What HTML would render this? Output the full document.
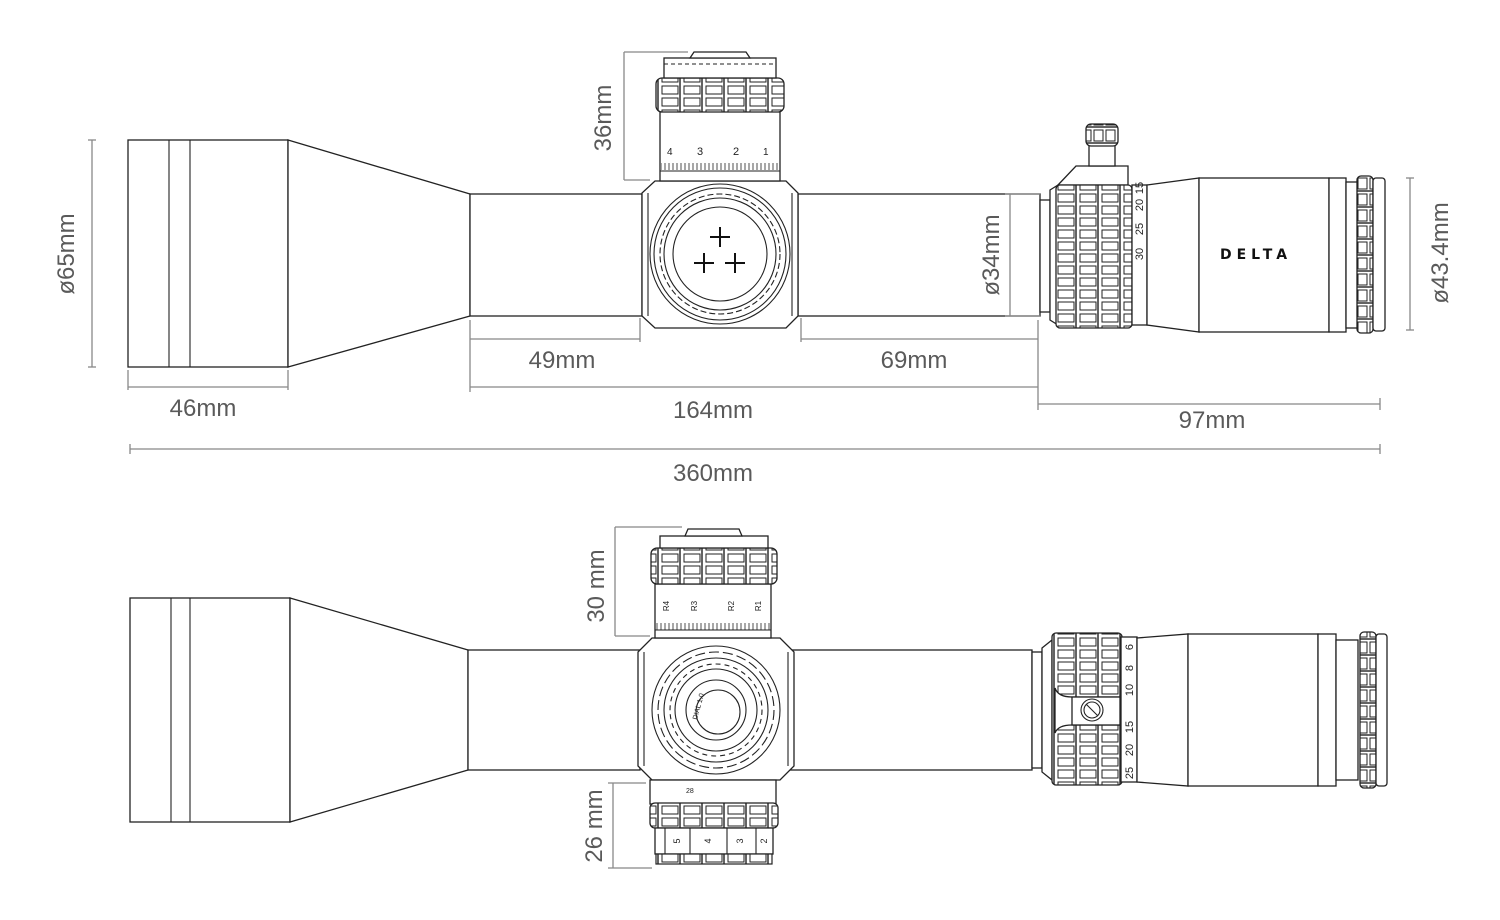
<!DOCTYPE html>
<html><head><meta charset="utf-8"><style>
html,body{margin:0;padding:0;background:#fff;width:1500px;height:920px;overflow:hidden}
svg{display:block}
.d{stroke:#888;stroke-width:1.3;fill:none}
.t{font-family:"Liberation Sans","DejaVu Sans",sans-serif;font-size:24px;fill:#5a5a5a}
.s{stroke:#222;stroke-width:1.3;fill:#fff}
.l{stroke:#222;stroke-width:1.1;fill:none}
.sm{font-family:"Liberation Sans",sans-serif;font-size:10px;fill:#222}
</style></head><body>
<svg width="1500" height="920" viewBox="0 0 1500 920" xmlns="http://www.w3.org/2000/svg">
<defs>
<pattern id="kn" width="22" height="12" patternUnits="userSpaceOnUse">
<rect width="22" height="12" fill="#fff"/>
<rect x="2" y="2" width="16" height="8" fill="none" stroke="#222" stroke-width="1"/>
<line x1="20" y1="0" x2="20" y2="12" stroke="#222" stroke-width="1.4"/>
</pattern>
<pattern id="knv" width="12" height="16" patternUnits="userSpaceOnUse">
<rect width="12" height="16" fill="#fff"/>
<rect x="2" y="2" width="9" height="11" fill="none" stroke="#222" stroke-width="1"/>
<line x1="0" y1="15" x2="12" y2="15" stroke="#222" stroke-width="1.4"/>
</pattern>
<pattern id="tk" width="4" height="10" patternUnits="userSpaceOnUse">
<line x1="1" y1="3" x2="1" y2="10" stroke="#222" stroke-width="0.8"/>
</pattern>
</defs>

<!-- ================= TOP SCOPE ================= -->
<rect class="s" x="128" y="140" width="160" height="227"/>
<line class="l" x1="169" y1="140" x2="169" y2="367"/>
<line class="l" x1="190" y1="140" x2="190" y2="367"/>
<polygon class="s" points="288,140 470,194 470,316 288,367"/>
<rect class="s" x="470" y="194" width="172" height="122"/>
<rect class="s" x="798" y="194" width="242" height="122"/>
<polygon class="s" points="655,181 786,181 798,193 798,316 786,328 655,328 642,316 642,193"/>
<line class="l" x1="648" y1="193" x2="648" y2="316"/>
<line class="l" x1="792" y1="193" x2="792" y2="316"/>
<circle class="l" cx="720" cy="254" r="70"/>
<circle class="l" cx="720" cy="254" r="66"/>
<circle class="l" cx="720" cy="254" r="60" stroke-dasharray="6 3"/>
<circle class="l" cx="720" cy="254" r="56"/>
<circle class="l" cx="720" cy="254" r="47"/>
<g stroke="#111" stroke-width="2">
<line x1="710" y1="237" x2="730" y2="237"/><line x1="720" y1="227" x2="720" y2="247"/>
<line x1="694" y1="263" x2="714" y2="263"/><line x1="704" y1="253" x2="704" y2="273"/>
<line x1="725" y1="263" x2="745" y2="263"/><line x1="735" y1="253" x2="735" y2="273"/>
</g>
<rect class="s" x="660" y="110" width="120" height="71"/>
<rect x="661" y="160" width="118" height="10" fill="url(#tk)"/>
<line class="l" x1="660" y1="171" x2="780" y2="171"/>
<text class="sm" x="667" y="155">4</text><text class="sm" x="697" y="155" style="font-size:11px">3</text>
<text class="sm" x="733" y="155" style="font-size:11px">2</text><text class="sm" x="763" y="155">1</text>
<rect x="656" y="78" width="128" height="34" rx="6" fill="url(#kn)" stroke="#222" stroke-width="1.3"/>
<rect x="664" y="58" width="112" height="20" class="s"/>
<path class="l" d="M664 64 h112" stroke-dasharray="4 3"/>
<path class="s" d="M690 58 L694 52 H746 L750 58 Z"/>
<!-- eyepiece top -->
<rect class="s" x="1040" y="200" width="10" height="112"/>
<polygon class="s" points="1050,190 1058,185 1058,325 1050,320"/>
<polygon class="s" points="1058,185 1076,166 1128,166 1128,185"/>
<rect class="s" x="1089" y="144" width="26" height="22"/>
<rect x="1086" y="124" width="32" height="22" rx="5" fill="url(#knv)" stroke="#222" stroke-width="1.3"/>
<rect x="1056" y="185" width="76" height="143" rx="4" fill="url(#kn)" stroke="#222" stroke-width="1.3"/>
<rect class="s" x="1132" y="185" width="15" height="140"/>
<g class="sm" style="font-size:11px">
<text transform="translate(1143,188) rotate(-90)" text-anchor="middle">15</text>
<text transform="translate(1143,205) rotate(-90)" text-anchor="middle">20</text>
<text transform="translate(1143,229) rotate(-90)" text-anchor="middle">25</text>
<text transform="translate(1143,254) rotate(-90)" text-anchor="middle">30</text>
</g>
<polygon class="s" points="1147,185 1199,178 1199,332 1147,325"/>
<rect class="s" x="1199" y="178" width="130" height="154"/>
<rect class="s" x="1329" y="178" width="17" height="154"/>
<rect class="s" x="1346" y="182" width="12" height="146"/>
<rect x="1357" y="176" width="16" height="157" rx="4" fill="url(#knv)" stroke="#222" stroke-width="1.3"/>
<rect class="s" x="1373" y="178" width="12" height="153" rx="3"/>
<text x="1256" y="259" text-anchor="middle" style="font-family:'DejaVu Sans',sans-serif;font-size:14px;letter-spacing:5px;fill:#111;font-weight:bold">DELTA</text>

<g class="d">
<line x1="92" y1="140" x2="92" y2="367"/><line x1="88" y1="140" x2="96" y2="140"/><line x1="88" y1="367" x2="96" y2="367"/>
<line x1="128" y1="370" x2="128" y2="390"/><line x1="288" y1="370" x2="288" y2="390"/><line x1="128" y1="387" x2="288" y2="387"/>
<line x1="624" y1="52" x2="624" y2="180"/><line x1="624" y1="52" x2="688" y2="52"/><line x1="624" y1="180" x2="650" y2="180"/>
<line x1="470" y1="320" x2="470" y2="392"/><line x1="640" y1="318" x2="640" y2="342"/><line x1="470" y1="339" x2="640" y2="339"/>
<line x1="801" y1="318" x2="801" y2="342"/><line x1="801" y1="339" x2="1038" y2="339"/>
<line x1="1038" y1="320" x2="1038" y2="410"/><line x1="470" y1="387" x2="1038" y2="387"/>
<line x1="1038" y1="404" x2="1380" y2="404"/><line x1="1380" y1="398" x2="1380" y2="410"/>
<line x1="130" y1="449" x2="1380" y2="449"/><line x1="130" y1="444" x2="130" y2="454"/><line x1="1380" y1="444" x2="1380" y2="454"/>
<line x1="1010" y1="194" x2="1010" y2="316"/><line x1="1005" y1="194" x2="1040" y2="194"/><line x1="1005" y1="316" x2="1040" y2="316"/>
<line x1="1410" y1="178" x2="1410" y2="330"/><line x1="1406" y1="178" x2="1414" y2="178"/><line x1="1406" y1="330" x2="1414" y2="330"/>
</g>
<g class="t">
<text transform="translate(74,254) rotate(-90)" text-anchor="middle">ø65mm</text>
<text x="203" y="416" text-anchor="middle">46mm</text>
<text transform="translate(611,118) rotate(-90)" text-anchor="middle">36mm</text>
<text x="562" y="368" text-anchor="middle">49mm</text>
<text x="914" y="368" text-anchor="middle">69mm</text>
<text x="713" y="418" text-anchor="middle">164mm</text>
<text x="1212" y="428" text-anchor="middle">97mm</text>
<text x="713" y="481" text-anchor="middle">360mm</text>
<text transform="translate(999,255) rotate(-90)" text-anchor="middle">ø34mm</text>
<text transform="translate(1448,253) rotate(-90)" text-anchor="middle">ø43.4mm</text>
</g>

<!-- ================= BOTTOM SCOPE ================= -->
<rect class="s" x="130" y="598" width="160" height="224"/>
<line class="l" x1="171" y1="598" x2="171" y2="822"/>
<line class="l" x1="190" y1="598" x2="190" y2="822"/>
<polygon class="s" points="290,598 468,650 468,770 290,822"/>
<rect class="s" x="468" y="650" width="172" height="120"/>
<rect class="s" x="790" y="650" width="242" height="120"/>
<polygon class="s" points="652,638 780,638 794,652 794,766 780,780 652,780 638,766 638,652"/>
<line class="l" x1="644" y1="652" x2="644" y2="766"/>
<line class="l" x1="788" y1="652" x2="788" y2="766"/>
<circle class="l" cx="716" cy="710" r="64"/>
<circle class="l" cx="716" cy="710" r="58" stroke-dasharray="10 4"/>
<circle class="l" cx="716" cy="710" r="52"/>
<circle class="l" cx="716" cy="710" r="46" stroke-dasharray="5 4"/>
<circle class="l" cx="716" cy="710" r="41"/>
<circle class="l" cx="716" cy="710" r="30"/>
<circle class="l" cx="718" cy="712" r="22"/>
<text class="sm" transform="translate(697,720) rotate(-75)" style="font-size:7px">DIAL 1.0</text>
<rect class="s" x="655" y="584" width="116" height="54"/>
<rect x="656" y="620" width="114" height="10" fill="url(#tk)"/>
<line class="l" x1="655" y1="630" x2="771" y2="630"/>
<g class="sm" style="font-size:8px">
<text transform="translate(669,606) rotate(-90)" text-anchor="middle">R4</text>
<text transform="translate(697,606) rotate(-90)" text-anchor="middle">R3</text>
<text transform="translate(734,606) rotate(-90)" text-anchor="middle">R2</text>
<text transform="translate(761,606) rotate(-90)" text-anchor="middle">R1</text>
</g>
<rect x="651" y="548" width="126" height="36" rx="6" fill="url(#kn)" stroke="#222" stroke-width="1.3"/>
<rect class="s" x="660" y="536" width="108" height="12"/>
<path class="s" d="M685 536 L688 529 H739 L742 536 Z"/>
<rect class="s" x="650" y="780" width="126" height="24"/>
<text class="sm" x="686" y="793" style="font-size:7px">28</text>
<rect x="650" y="803" width="128" height="25" rx="5" fill="url(#kn)" stroke="#222" stroke-width="1.3"/>
<rect class="s" x="655" y="828" width="118" height="26"/>
<g class="l"><line x1="665" y1="828" x2="665" y2="854"/><line x1="690" y1="828" x2="690" y2="854"/><line x1="727" y1="828" x2="727" y2="854"/><line x1="756" y1="828" x2="756" y2="854"/></g>
<g class="sm" style="font-size:9px">
<text transform="translate(680,841) rotate(-90)" text-anchor="middle">5</text>
<text transform="translate(711,841) rotate(-90)" text-anchor="middle">4</text>
<text transform="translate(743,841) rotate(-90)" text-anchor="middle">3</text>
<text transform="translate(767,841) rotate(-90)" text-anchor="middle">2</text>
</g>
<rect x="656" y="854" width="116" height="10" fill="url(#kn)" stroke="#222" stroke-width="1.2"/>
<rect class="s" x="1032" y="652" width="10" height="116"/>
<polygon class="s" points="1042,648 1052,640 1052,780 1042,772"/>
<rect x="1052" y="633" width="70" height="152" rx="4" fill="url(#kn)" stroke="#222" stroke-width="1.3"/>
<path class="s" d="M1055 688 Q1058 697 1072 697 H1120 V725 H1072 Q1058 725 1055 733 Z"/>
<rect class="s" x="1072" y="697" width="48" height="28"/>
<circle class="l" cx="1092" cy="710" r="11"/><circle class="l" cx="1092" cy="710" r="8"/>
<line class="l" x1="1086" y1="704" x2="1098" y2="716"/>
<rect class="s" x="1121" y="637" width="16" height="145"/>
<g class="sm" style="font-size:11px">
<text transform="translate(1133,647) rotate(-90)" text-anchor="middle">6</text>
<text transform="translate(1133,668) rotate(-90)" text-anchor="middle">8</text>
<text transform="translate(1133,690) rotate(-90)" text-anchor="middle">10</text>
<text transform="translate(1133,727) rotate(-90)" text-anchor="middle">15</text>
<text transform="translate(1133,750) rotate(-90)" text-anchor="middle">20</text>
<text transform="translate(1133,773) rotate(-90)" text-anchor="middle">25</text>
</g>
<polygon class="s" points="1137,638 1188,634 1188,786 1137,782"/>
<rect class="s" x="1188" y="634" width="130" height="152"/>
<rect class="s" x="1318" y="634" width="18" height="152"/>
<rect class="s" x="1336" y="640" width="22" height="140"/>
<rect x="1360" y="632" width="16" height="156" rx="4" fill="url(#knv)" stroke="#222" stroke-width="1.3"/>
<rect class="s" x="1376" y="634" width="11" height="152" rx="3"/>
<g class="d">
<line x1="615" y1="527" x2="615" y2="636"/><line x1="615" y1="527" x2="682" y2="527"/><line x1="615" y1="636" x2="650" y2="636"/>
<line x1="613" y1="783" x2="613" y2="868"/><line x1="608" y1="783" x2="646" y2="783"/><line x1="608" y1="868" x2="652" y2="868"/>
</g>
<g class="t">
<text transform="translate(604,586) rotate(-90)" text-anchor="middle">30 mm</text>
<text transform="translate(602,826) rotate(-90)" text-anchor="middle">26 mm</text>
</g>
</svg>
</body></html>
